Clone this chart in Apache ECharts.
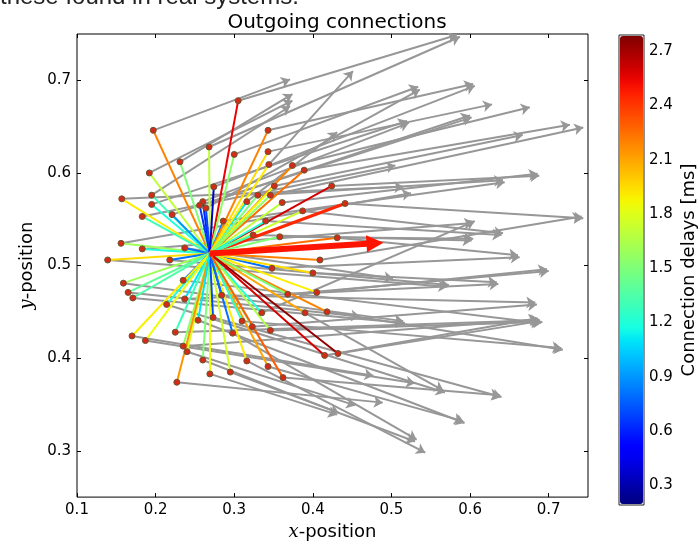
<!DOCTYPE html>
<html>
<head>
<meta charset="utf-8">
<script src="https://cdn.jsdelivr.net/npm/echarts@6/dist/echarts.min.js"></script>
<style>html,body{margin:0;padding:0;background:#fff}#c{width:700px;height:546px}</style>
</head>
<body>
<div id="c"></div>
<script>
// ---- data ----
const center = [0.269, 0.513];
const targetX = [0.197,0.305,0.268,0.231,0.300,0.192,0.157,0.195,0.195,0.183,0.221,0.156,0.183,0.237,0.260,0.264,0.256,0.274,0.286,0.316,
  0.343,0.343,0.344,0.374,0.389,0.351,0.330,0.346,0.361,0.424,0.441,0.387,0.340,0.324,0.431,0.358,
  0.139,0.218,0.159,0.165,0.171,0.235,0.237,0.214,0.170,0.187,0.225,0.235,0.240,0.227,0.260,0.269,0.295,0.316,0.343,0.273,0.254,0.284,0.310,0.323,
  0.409,0.348,0.400,0.405,0.418,0.390,0.368,0.335,0.346,0.298,0.432,0.415,0.362];
const targetY = [0.646,0.678,0.628,0.612,0.620,0.600,0.572,0.576,0.566,0.553,0.555,0.524,0.518,0.519,0.569,0.562,0.565,0.585,0.548,0.569,
  0.646,0.623,0.609,0.608,0.603,0.586,0.576,0.576,0.568,0.586,0.567,0.559,0.548,0.533,0.530,0.531,
  0.506,0.506,0.481,0.471,0.465,0.484,0.464,0.458,0.424,0.419,0.428,0.413,0.407,0.374,0.398,0.383,0.385,0.397,0.391,0.444,0.441,0.468,0.440,0.434,
  0.506,0.497,0.492,0.471,0.450,0.449,0.469,0.449,0.430,0.427,0.405,0.403,0.379];
const delays = [2.2,2.55,1.7,1.5,1.55,1.7,1.9,1.3,1.2,1.3,0.9,1.6,1.2,0.8,0.6,0.7,0.65,0.35,0.85,1.1,
  2.2,1.95,1.9,2.2,2.25,1.85,1.5,1.55,1.7,2.6,2.45,1.75,1.2,1.3,2.25,1.5,
  1.95,0.8,1.6,1.4,1.35,0.8,1.1,1.2,1.9,1.85,1.3,1.55,1.8,2.15,1.5,1.85,1.75,1.9,2.1,0.7,1.1,0.6,1.25,1.45,
  2.2,0.8,1.95,1.9,2.2,2.1,1.5,1.2,1.65,0.8,2.75,2.6,2.3];
// gray arrows: start at a target (index), end at tip
const arrowSrc  = [0,1,2,3,4,5,6,7,8,9,10,11,12,20,21,22,23,24,25,26,27,28,19,31,34,35,36,38,39,44,45,49,51,52,53,54,72,70,71,68,59,64,65,63,62,60,48,46,
  13,14,15,16,17,18,29,30,32,33,37,40,41,42,43,47,50,55,56,57,58,61,66,67,69];
const arrowTipX = [0.371,0.583,0.587,0.374,0.534,0.374,0.515,0.371,0.520,0.505,0.600,0.525,0.604,0.604,0.628,0.451,0.676,0.727,0.667,0.642,0.744,0.686,0.431,0.642,0.661,0.604,0.571,0.515,0.460,0.477,0.530,0.489,0.431,0.530,0.543,0.591,0.638,0.689,0.686,0.692,0.685,0.718,0.566,0.698,0.634,0.742,0.454,0.689,
  0.502,0.522,0.536,0.602,0.606,0.644,0.688,0.744,0.640,0.602,0.573,0.517,0.690,0.636,0.568,0.687,0.433,0.640,0.593,0.683,0.716,0.663,0.700,0.606,0.532];
const arrowTipY = [0.701,0.749,0.747,0.685,0.693,0.678,0.585,0.672,0.656,0.608,0.662,0.578,0.546,0.696,0.674,0.710,0.671,0.652,0.641,0.592,0.649,0.599,0.644,0.535,0.511,0.529,0.477,0.440,0.445,0.381,0.373,0.352,0.339,0.310,0.298,0.332,0.360,0.440,0.443,0.439,0.458,0.409,0.365,0.496,0.482,0.553,0.349,0.441,
  0.486,0.654,0.690,0.660,0.694,0.590,0.597,0.551,0.533,0.527,0.479,0.438,0.438,0.480,0.363,0.442,0.341,0.358,0.330,0.460,0.411,0.509,0.494,0.548,0.312];
const meanTip = [0.479, 0.524];
const meanDelay = 2.5;
const xTicks = [0.1,0.2,0.3,0.4,0.5,0.6,0.7];
const yTicks = [0.3,0.4,0.5,0.6,0.7];
const cbTicks = [0.3,0.6,0.9,1.2,1.5,1.8,2.1,2.4,2.7];
const cbMin = 0.19, cbMax = 2.79;

// ---- jet colormap ----
const JET = {
  r: [[0,0],[0.35,0],[0.66,1],[0.89,1],[1,0.5]],
  g: [[0,0],[0.125,0],[0.375,1],[0.64,1],[0.91,0],[1,0]],
  b: [[0,0.5],[0.11,1],[0.34,1],[0.65,0],[1,0]]
};
function seg(p, t){
  for (let i=1;i<p.length;i++){
    if (t<=p[i][0]){const a=p[i-1],b=p[i];return a[1]+(b[1]-a[1])*(t-a[0])/(b[0]-a[0]);}
  }
  return p[p.length-1][1];
}
function jet(t){
  t=Math.max(0,Math.min(1,t));
  const c=[seg(JET.r,t),seg(JET.g,t),seg(JET.b,t)].map(v=>Math.round(v*255));
  return 'rgb('+c.join(',')+')';
}
function delayColor(d){return jet((d-cbMin)/(cbMax-cbMin));}
const jetSamples=[];for(let i=0;i<=40;i++)jetSamples.push(jet(i/40));

const coloredLines = targetX.map((x,i)=>({coords:[center,[x,targetY[i]]], lineStyle:{color:delayColor(delays[i]), width: i===30?3:2}}));
const grayArrows = arrowSrc.map((s,k)=>({coords:[[targetX[s],targetY[s]],[arrowTipX[k],arrowTipY[k]]]}));
const dots = targetX.map((x,i)=>[x,targetY[i]]);

const chart = echarts.init(document.getElementById('c'), null, {renderer:'canvas'});
const fontMain = 'DejaVu Sans';
chart.setOption({
  backgroundColor:'#fff',
  animation:false,
  title:{text:'Outgoing connections', left:332, textAlign:'center', top:8, textStyle:{fontFamily:fontMain, fontSize:20, fontWeight:'normal', color:'#000'}},
  graphic:[{type:'text', left:0, top:-15, style:{text:'these found in real systems.', fontFamily:'Liberation Sans', fontSize:24, fill:'#222'}}],
  grid:[
    {left:77, right:112, top:34, bottom:40, show:true, borderColor:'#000', borderWidth:1, backgroundColor:'transparent'},
    {left:619, top:35, width:25, height:470, show:true, borderColor:'#222', borderWidth:1}
  ],
  xAxis:[
    {type:'value', gridIndex:0, min:0.1, max:0.75, position:'bottom',
     name:'{i|x}-position', nameLocation:'middle', nameGap:21,
     nameTextStyle:{fontFamily:fontMain, fontSize:18, color:'#000', rich:{i:{fontFamily:'DejaVu Serif', fontStyle:'italic', fontSize:18}}},
     axisLine:{show:false}, splitLine:{show:false},
     axisTick:{inside:true, length:4, lineStyle:{color:'#000'}, customValues:xTicks},
     axisLabel:{customValues:xTicks, fontFamily:fontMain, fontSize:15, color:'#000', margin:6, formatter:v=>v.toFixed(1)}},
    {type:'value', gridIndex:0, min:0.1, max:0.75, position:'top',
     axisLine:{show:false}, splitLine:{show:false}, axisLabel:{show:false},
     axisTick:{inside:true, length:4, lineStyle:{color:'#000'}, customValues:xTicks}},
    {type:'value', gridIndex:1, min:0, max:1, show:false}
  ],
  yAxis:[
    {type:'value', gridIndex:0, min:0.25, max:0.75, position:'left',
     name:'{i|y}-position', nameLocation:'middle', nameGap:37, nameRotate:90,
     nameTextStyle:{fontFamily:fontMain, fontSize:18, color:'#000', rich:{i:{fontFamily:'DejaVu Serif', fontStyle:'italic', fontSize:18}}},
     axisLine:{show:false}, splitLine:{show:false},
     axisTick:{inside:true, length:4, lineStyle:{color:'#000'}, customValues:yTicks},
     axisLabel:{customValues:yTicks, fontFamily:fontMain, fontSize:15, color:'#000', margin:6, formatter:v=>v.toFixed(1)}},
    {type:'value', gridIndex:0, min:0.25, max:0.75, position:'right',
     axisLine:{show:false}, splitLine:{show:false}, axisLabel:{show:false},
     axisTick:{inside:true, length:4, lineStyle:{color:'#000'}, customValues:yTicks}},
    {type:'value', gridIndex:1, min:cbMin, max:cbMax, position:'right',
     name:'Connection delays [ms]', nameLocation:'middle', nameGap:36, nameRotate:90,
     nameTextStyle:{fontFamily:fontMain, fontSize:18, color:'#000'},
     axisLine:{show:false}, splitLine:{show:false}, axisTick:{show:false},
     axisLabel:{customValues:cbTicks, fontFamily:fontMain, fontSize:15, color:'#000', margin:5, formatter:v=>v.toFixed(1)}}
  ],
  visualMap:{type:'continuous', min:cbMin, max:cbMax, seriesIndex:4, calculable:false, left:620, top:36, itemWidth:23, itemHeight:468, padding:0, text:null, showLabel:false, inRange:{color:jetSamples}, hoverLink:false},
  series:[
    {type:'lines', coordinateSystem:'cartesian2d', xAxisIndex:0, yAxisIndex:0, data:grayArrows, z:2,
     symbol:['none','arrow'], symbolSize:[0,9], lineStyle:{color:'#979797', width:2, opacity:1}},
    {type:'lines', coordinateSystem:'cartesian2d', xAxisIndex:0, yAxisIndex:0, data:coloredLines, z:3, symbol:['none','none'], lineStyle:{width:2, opacity:1}},
    {type:'scatter', xAxisIndex:0, yAxisIndex:0, data:dots, z:4, symbol:'circle', symbolSize:6, itemStyle:{color:'#d42a18', borderColor:'#6b5530', borderWidth:1, opacity:1}},
    {type:'lines', coordinateSystem:'cartesian2d', xAxisIndex:0, yAxisIndex:0, data:[{coords:[center, meanTip]}], z:5,
     symbol:['none','triangle'], symbolSize:[0,17], lineStyle:{color:delayColor(meanDelay), width:6, opacity:1}},
    {type:'scatter', xAxisIndex:2, yAxisIndex:2, data:[], silent:true}
  ]
});
</script>
</body>
</html>
